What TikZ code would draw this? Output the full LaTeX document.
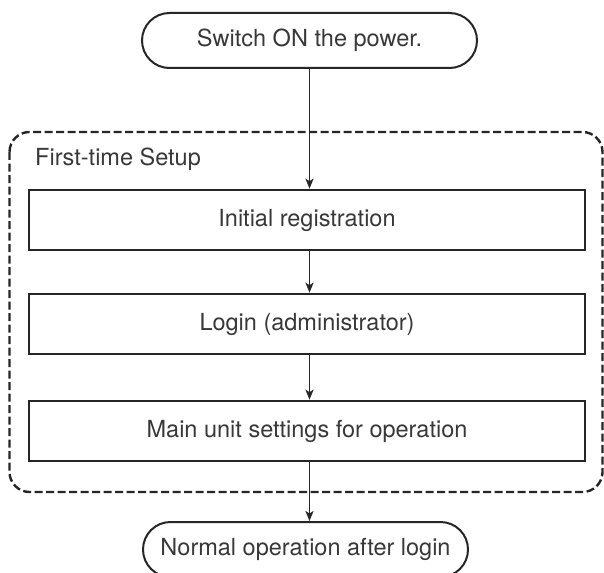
\documentclass[tikz,border=0pt]{standalone}
\usepackage{fontspec}
\setmainfont{TeX Gyre Heros}
\usetikzlibrary{shapes.misc,arrows.meta}
\begin{document}
\begin{tikzpicture}[x=1pt,y=-1pt,
  txt/.style={font=\fontsize{23.5}{28}\selectfont, text=black!78},
  term/.style={txt, rounded rectangle, draw=black!85, line width=2pt, minimum height=55pt, inner sep=0pt},
  stepbox/.style={txt, rectangle, draw=black!85, line width=2.6pt, minimum width=556pt, minimum height=60pt, inner sep=0pt},
  flow/.style={draw=black!85, line width=1.9pt, -{Stealth[length=10pt,width=8pt,inset=2.5pt]}},
  group/.style={draw=black!85, line width=2.4pt, dash pattern=on 8pt off 3.5pt, rounded corners=20pt}
]
\clip (0,0) rectangle (604,572);
\fill[white] (0,0) rectangle (604,572);

\node[term, minimum width=335pt] (start) at (309.5,40.5) {Switch ON the power.};

\draw[group] (9.5,132) rectangle (602.5,492);
\node[txt, anchor=base west, inner sep=0pt] (grp) at (35,165) {First-time Setup};

\node[stepbox] (b1) at (307,220) {Initial registration};
\node[stepbox] (b2) at (307,324) {Login (administrator)};
\node[stepbox] (b3) at (307,431) {Main unit settings for operation};

\node[term, minimum width=325pt] (stop) at (305.5,549.5) {Normal operation after login};

\draw[flow] (start.south) -- (start.south |- b1.north);
\draw[flow] (start.south |- b1.south) -- (start.south |- b2.north);
\draw[flow] (start.south |- b2.south) -- (start.south |- b3.north);
\draw[flow] (start.south |- b3.south) -- (start.south |- stop.north);
\end{tikzpicture}
\end{document}
